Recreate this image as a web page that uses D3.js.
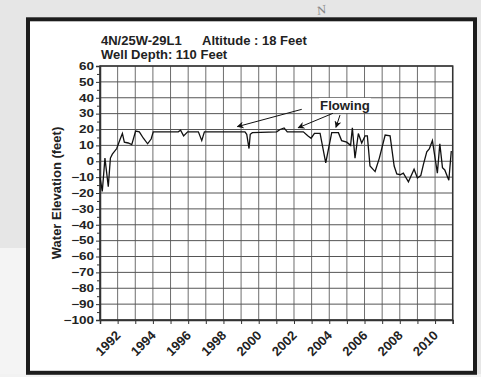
<!DOCTYPE html>
<html>
<head>
<meta charset="utf-8">
<script src="https://cdn.jsdelivr.net/npm/d3@7.9.0/dist/d3.min.js"></script>
<style>
  html, body { margin: 0; padding: 0; background: #e6e6e6; }
  svg { display: block; font-family: "Liberation Sans", Arial, sans-serif; }
</style>
</head>
<body>
<div id="chart"></div>
<script>
const years = [
  1991.0, 1991.13, 1991.28, 1991.47, 1991.59, 1991.7, 1991.95, 1992.13, 1992.27, 1992.38,
  1992.6, 1992.8, 1993.02, 1993.23, 1993.46, 1993.7, 1993.9, 1994.02, 1995.44, 1995.57,
  1995.74, 1995.97, 1996.58, 1996.77, 1996.92, 1999.22, 1999.32, 1999.45, 1999.52, 1999.64,
  2001.02, 2001.21, 2001.44, 2001.62, 2002.53, 2002.78, 2002.97, 2003.16, 2003.48, 2003.8,
  2004.14, 2004.52, 2004.7, 2004.99, 2005.21, 2005.31, 2005.46, 2005.65, 2005.84, 2006.03,
  2006.16, 2006.31, 2006.6, 2006.84, 2007.17, 2007.45, 2007.68, 2007.83, 2008.02, 2008.2,
  2008.49, 2008.81, 2009.0, 2009.19, 2009.34, 2009.53, 2009.68, 2009.85, 2010.13, 2010.27,
  2010.42, 2010.55, 2010.78, 2010.92
];
const elevation = [
  -10, -19, 2, -16, 2, 4.5, 8, 13.5, 17.5, 12,
  11.5, 10.5, 19, 18.5, 14.5, 11, 14, 18.5, 18.5, 19.5,
  16, 18.5, 18.5, 13, 18.5, 18.5, 17, 8, 17, 18,
  18.5, 20, 21, 18.5, 18.5, 16, 14.5, 17.5, 17.5, -1,
  18, 18, 13, 12, 10, 21, 2, 17.5, 11.5, 16,
  16, -3, -6.5, 2, 16.5, 16, -3, -8, -8.5, -7.5,
  -13, -5, -10.5, -9, -2, 6, 8, 13, -7.5, 11,
  -4, -5.5, -12, 6.5
];

const yTicks = d3.range(-100, 61, 10);
const yMinorTicks = d3.range(-95, 60, 10);
const xTicks = d3.range(1991, 2012, 1);
const xLabelYears = d3.range(1992, 2011, 2);

const titleWell = "4N/25W-29L1";
const titleAltitude = "Altitude : 18 Feet";
const titleDepth = "Well Depth: 110 Feet";
const yAxisTitle = "Water Elevation (feet)";
const noteText = "Flowing";
// note position and arrows, in data units: [fromYear, fromValue, toYear, toValue]
const notePos = [2003.48, 32.3];
const noteArrows = [
  [2002.44, 32.7, 1998.79, 21.8],
  [2004.21, 30.2, 2002.24, 21.1],
  [2004.61, 29.1, 2004.38, 21.4]
];

const W = 481, H = 377;
const margin = {top: 66, right: 28.3, bottom: 57, left: 100};
const width = W - margin.left - margin.right,
      height = H - margin.top - margin.bottom;

const svg = d3.select("#chart").append("svg")
    .attr("width", W)
    .attr("height", H);

// scanned page background
svg.append("rect").attr("width", W).attr("height", H).attr("fill", "#e6e6e6");
svg.append("rect").attr("x", 0).attr("y", 248).attr("width", 28).attr("height", H - 248)
    .attr("fill", "#f4f4f4");
svg.append("rect").attr("x", 0).attr("y", 374).attr("width", W).attr("height", 3)
    .attr("fill", "#f2f2f2");
svg.append("text").attr("x", 36).attr("y", 192)
    .attr("font-family", "'DejaVu Serif', serif").attr("font-style", "italic")
    .attr("font-size", 24).attr("fill", "#777").text("C");
svg.append("text").attr("transform", "translate(318,15) rotate(-15)")
    .attr("font-family", "'DejaVu Serif', serif").attr("font-style", "italic")
    .attr("font-size", 11).attr("fill", "#888").text("N");

// outer frame
svg.append("rect")
    .attr("x", 28).attr("y", 19.3)
    .attr("width", 447).attr("height", 353.5)
    .attr("fill", "#fff")
    .attr("stroke", "#1c1c1c")
    .attr("stroke-width", 4);

const g = svg.append("g")
    .attr("transform", `translate(${margin.left}, ${margin.top})`);

const x = d3.scaleLinear().domain([1991, 2011]).range([0, width]);
const y = d3.scaleLinear().domain([-100, 60]).range([height, 0]);

// grid
g.append("g").selectAll("line")
  .data(xTicks)
  .join("line")
    .attr("x1", d => x(d)).attr("x2", d => x(d))
    .attr("y1", 0).attr("y2", height)
    .attr("stroke", "#6e6e6e").attr("stroke-width", 1);
g.append("g").selectAll("line")
  .data(yTicks)
  .join("line")
    .attr("x1", 0).attr("x2", width)
    .attr("y1", d => y(d)).attr("y2", d => y(d))
    .attr("stroke", "#555").attr("stroke-width", 1);

// plot border
g.append("rect")
    .attr("width", width).attr("height", height)
    .attr("fill", "none").attr("stroke", "#333").attr("stroke-width", 1.5);

// Y axis
const yAxis = g.append("g")
    .call(d3.axisLeft(y).tickValues(yTicks).tickSize(4).tickPadding(2));
yAxis.select(".domain").attr("stroke", "#333").attr("stroke-width", 1.5);
yAxis.selectAll(".tick line").attr("stroke", "#333");
yAxis.selectAll("text")
    .attr("font-family", "'Liberation Sans', Arial, sans-serif")
    .attr("font-size", 13.5).attr("font-weight", "bold").attr("fill", "#222")
    .attr("transform", "scale(1,0.78)");
g.append("g")
    .call(d3.axisLeft(y).tickValues(yMinorTicks).tickSize(3).tickFormat(""))
    .call(a => a.select(".domain").remove())
    .selectAll(".tick line").attr("stroke", "#333");

// X axis
const xAxis = g.append("g")
    .attr("transform", `translate(0, ${height})`)
    .call(d3.axisBottom(x).tickValues(xTicks).tickSize(4)
      .tickFormat(d => xLabelYears.includes(d) ? d : ""));
xAxis.select(".domain").attr("stroke", "#333").attr("stroke-width", 1.5);
xAxis.selectAll(".tick line").attr("stroke", "#333");
xAxis.selectAll("text")
    .attr("font-family", "'Liberation Sans', Arial, sans-serif")
    .attr("font-size", 13).attr("font-weight", "bold").attr("fill", "#222")
    .attr("x", 0).attr("y", 0).attr("dy", "0.35em")
    .attr("text-anchor", "end")
    .attr("transform", "translate(0,13) rotate(-45)");

// Y axis title
svg.append("text")
    .attr("transform", `translate(61, ${margin.top + height / 2}) rotate(-90)`)
    .attr("text-anchor", "middle")
    .attr("font-size", 13).attr("font-weight", "bold").attr("fill", "#222")
    .text(yAxisTitle);

// titles
svg.append("text").attr("x", 101).attr("y", 45)
    .attr("font-size", 13).attr("font-weight", "bold").attr("fill", "#222")
    .text(titleWell);
svg.append("text").attr("x", 202).attr("y", 45)
    .attr("font-size", 13).attr("font-weight", "bold").attr("fill", "#222")
    .text(titleAltitude);
svg.append("text").attr("x", 101).attr("y", 59)
    .attr("font-size", 13).attr("font-weight", "bold").attr("fill", "#222")
    .text(titleDepth);

// hydrograph line
const line = d3.line()
    .x(d => x(d[0]))
    .y(d => y(d[1]));
g.append("path")
    .datum(d3.zip(years, elevation))
    .attr("d", line)
    .attr("fill", "none")
    .attr("stroke", "#111")
    .attr("stroke-width", 1.3)
    .attr("stroke-linejoin", "miter");

// "Flowing" note with arrows
svg.append("defs").append("marker")
    .attr("id", "head")
    .attr("viewBox", "0 0 10 10")
    .attr("refX", 9).attr("refY", 5)
    .attr("markerWidth", 7).attr("markerHeight", 7)
    .attr("markerUnits", "userSpaceOnUse")
    .attr("orient", "auto")
  .append("path")
    .attr("d", "M0,0 L10,5 L0,10 L3,5 Z")
    .attr("fill", "#111");

const noteG = g.append("g");
const noteBg = noteG.append("rect").attr("fill", "#fff");
const note = noteG.append("text")
    .attr("x", x(notePos[0])).attr("y", y(notePos[1]))
    .attr("font-size", 13.2).attr("font-weight", "bold").attr("fill", "#222")
    .text(noteText);
const bb = note.node().getBBox();
noteBg.attr("x", bb.x - 1).attr("y", bb.y)
    .attr("width", bb.width + 2).attr("height", bb.height);

g.append("g").selectAll("line")
  .data(noteArrows)
  .join("line")
    .attr("x1", d => x(d[0])).attr("y1", d => y(d[1]))
    .attr("x2", d => x(d[2])).attr("y2", d => y(d[3]))
    .attr("stroke", "#111").attr("stroke-width", 1)
    .attr("marker-end", "url(#head)");
</script>
</body>
</html>
